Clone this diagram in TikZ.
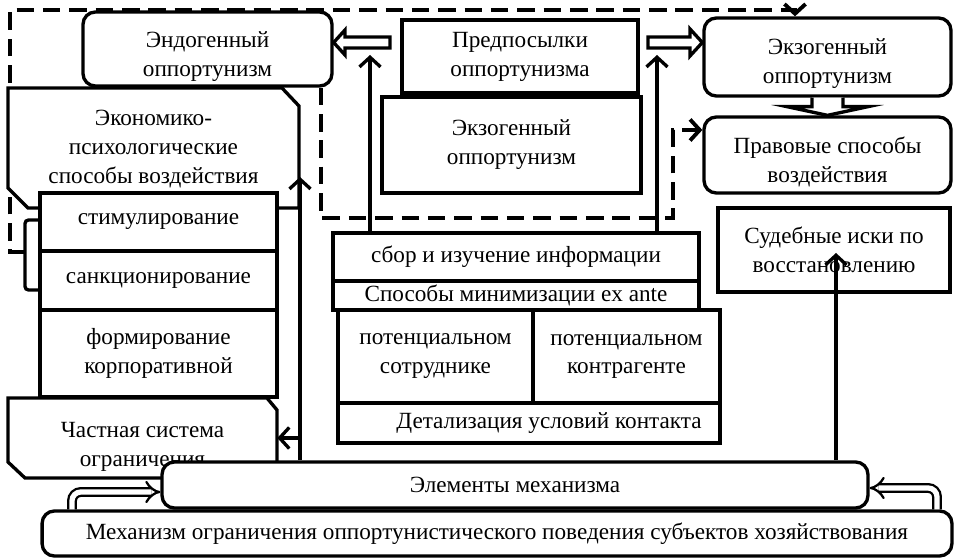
\documentclass[tikz,border=0pt]{standalone}
\usepackage{fontspec}
\setmainfont{Liberation Serif}
\usetikzlibrary{arrows.meta,calc}

\tikzset{
    box/.style={draw=black, line width=1.9pt, fill=white, align=center, inner sep=0pt},
    rbox/.style={box, rounded corners=7pt},
    txt/.style={align=center, inner sep=0pt},
    dashline/.style={draw=black, line width=2.2pt, dash pattern=on 10pt off 5pt},
    arr/.style={line width=1.9pt, -{Straight Barb[length=5.5pt,width=12pt]}},
    thinhollow/.style={double=white, double distance=3pt, line width=1.3pt, rounded corners=5pt, -{Implies}},
}

\begin{document}
\begin{tikzpicture}[x=0.02cm, y=-0.02cm, font=\fontsize{13.2}{16.5}\selectfont]
        \useasboundingbox (0,0) rectangle (956,560);

        \node[rbox, minimum width=4.98cm, minimum height=1.48cm,
              label={[txt, yshift=-4.5pt]center:Эндогенный\\оппортунизм}] (endo) at (207.5,49) {};
        \node[box, minimum width=4.72cm, minimum height=1.46cm] (pred) at (520,56.5) {Предпосылки\\оппортунизма};
        \node[box, minimum width=5.18cm, minimum height=1.92cm] (exoc) at (511.5,145) {Экзогенный\\оппортунизм};
        \node[rbox, minimum width=4.94cm, minimum height=1.56cm,
              label={[txt, yshift=-3.5pt]center:Экзогенный\\оппортунизм}] (exor) at (827.5,57) {};
        \node[rbox, minimum width=4.94cm, minimum height=1.52cm,
              label={[txt, yshift=-4pt]center:Правовые способы\\воздействия}] (prav) at (827.5,155) {};
        \node[box, minimum width=4.64cm, minimum height=1.68cm] (sud) at (834,250) {Судебные иски по\\восстановлению};

        \draw[dashline, -{Straight Barb[length=5.5pt,width=12pt]}] (25,252) -- (10,252) -- (10,10) -| (exor.north -| 795,0);
        \draw[dashline, -{Straight Barb[length=5.5pt,width=12pt]}] (endo.south -| 321,0) -- (321,218) -- (673,218) -- (673,130) -- (prav.west |- 0,130);

        \draw[box] (8,88) -- (282,88) -- (299,106) -- (299,208) -- (28,208) -- (8,188) -- cycle;
        \node[txt, minimum width=5.82cm, minimum height=2.4cm] (econ) at (153.5,149) {Экономико-\\психологические\\способы воздействия};

        \node[box, minimum width=4.74cm, minimum height=1.16cm] (stim) at (158.5,222) {стимулирование};
        \node[box, minimum width=4.74cm, minimum height=1.18cm] (sank) at (158.5,280.5) {санкционирование};
        \node[box, minimum width=4.74cm, minimum height=1.74cm] (form) at (158.5,353.5) {формирование\\корпоративной};
        \draw[line width=1.9pt, rounded corners=2pt] (stim.west |- 0,220) -- (25,220) -- (25,290) -- (sank.west |- 0,290);

        \draw[box] (8,398) -- (267,398) -- (277,410) -- (277,478) -- (25,478) -- (8,462) -- cycle;
        \node[txt, minimum width=5.38cm, minimum height=1.6cm,
              label={[txt, yshift=-5pt]center:Частная система\\ограничения}] (chast) at (142.5,438) {};

        \node[box, minimum width=7.32cm, minimum height=0.96cm] (sbor) at (516,257) {сбор и изучение информации};
        \node[box, minimum width=7.32cm, minimum height=0.58cm] (spos) at (516,295.5) {Способы минимизации ex ante};
        \node[box, minimum width=3.9cm, minimum height=1.86cm] (sotr) at (435.5,356.5) {потенциальном\\сотруднике};
        \node[box, minimum width=3.74cm, minimum height=1.86cm] (kontr) at (626.5,356.5) {потенциальном\\контрагенте};
        \node[box, minimum width=7.64cm, minimum height=0.8cm] (detal) at (529,423) {\hspace{0.8cm}Детализация условий контакта};

        \node[rbox, minimum width=14.12cm, minimum height=0.92cm] (elem) at (515,485) {Элементы механизма};
        \node[rbox, minimum width=18.2cm, minimum height=0.9cm] (mech) at (497,533.5) {Механизм ограничения оппортунистического поведения субъектов хозяйствования};

        \coordinate (tipL) at (300,177);
        \coordinate (branch) at (300,438);
        \coordinate (tipA) at (370,55);
        \coordinate (tipB) at (657,55);
        \coordinate (tipS) at (836,253);
        \draw[arr] (elem.north -| tipL) -- (tipL);
        \draw[arr] (branch) -- (chast.east);
        \draw[arr] (sbor.north -| tipA) -- (tipA);
        \draw[arr] (sbor.north -| tipB) -- (tipB);
        \draw[arr] (elem.north -| tipS) -- (tipS);

        \draw[box] (390,37) -- (345,37) -- (345,30) -- (endo.east |- 0,42.5) -- (345,55) -- (345,48) -- (390,48) -- cycle;
        \draw[box] (648,37) -- (690,37) -- (690,29) -- (exor.west |- 0,42.5) -- (690,56) -- (690,48) -- (648,48) -- cycle;
        \draw[box] ($(exor.south)+(-15.5,0)$) -- ++(0,9) -- ++(-25,0) -- (prav.north) -- ($(exor.south)+(40.5,9)$) -- ++(-25,0) -- ++(0,-9);

        \draw[thinhollow] (mech.north -| 72,0) |- (elem.west |- 0,492);
        \draw[thinhollow] (mech.north -| 937,0) |- (elem.east |- 0,488);
\end{tikzpicture}
\end{document}
